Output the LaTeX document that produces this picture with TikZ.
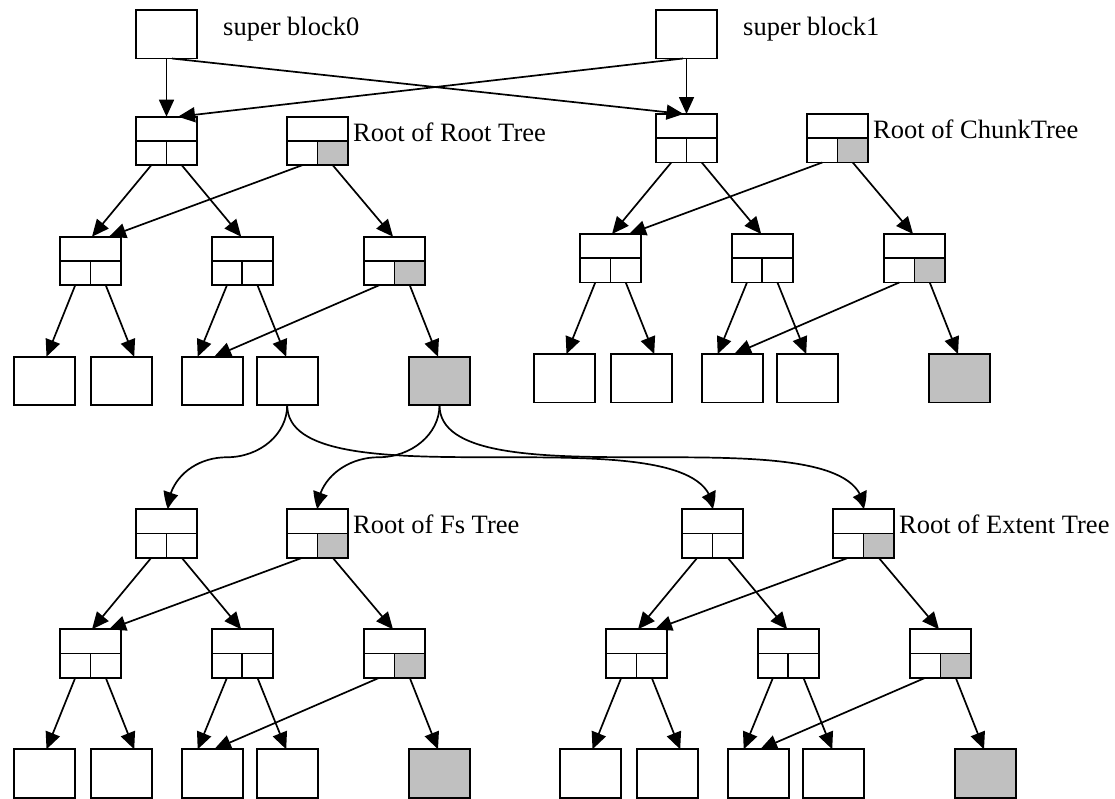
\documentclass[tikz,border=0pt]{standalone}
\usepackage{fontspec}
\setmainfont{Liberation Serif}
\usetikzlibrary{arrows.meta,calc,bending}
\definecolor{cellgray}{RGB}{192,192,192}
\tikzset{
  blk/.style={draw, line width=1.8pt, fill=white, minimum width=61pt,
    minimum height=48.5pt, inner sep=0pt, outer sep=0pt, anchor=north west},
  grayblk/.style={blk, fill=cellgray},
  inode/.style={blk, path picture={
      \draw[line width=1.8pt]
        (path picture bounding box.west) -- (path picture bounding box.east)
        (path picture bounding box.center) -- (path picture bounding box.south);}},
  inodeg/.style={blk, path picture={
      \fill[cellgray] (path picture bounding box.center)
        rectangle (path picture bounding box.south east);
      \draw[line width=1.8pt]
        (path picture bounding box.west) -- (path picture bounding box.east)
        (path picture bounding box.center) -- (path picture bounding box.south);}},
  arr/.style={line width=1.7pt, -{Triangle[length=17pt,width=15pt]}},
  carr/.style={line width=1.7pt, -{Triangle[length=17pt,width=15pt,bend]}},
  lab/.style={anchor=base west, inner sep=0pt, font=\fontsize{26.5}{31}\selectfont},
}
% one B-tree: #1 name prefix, #2/#3 offset, #4 caption of the root
\newcommand\btree[4]{%
  \begin{scope}[shift={(#2,#3)}]
    \node[inode]   (#1A) at (136,116.7) {};
    \node[inodeg]  (#1B) at (287,116.7) {};
    \node[inode]   (#1L) at (60,236.7) {};
    \node[inode]   (#1M) at (211.7,236.7) {};
    \node[inodeg]  (#1R) at (364,236.7) {};
    \node[blk]     (#1a) at (14,356.7) {};
    \node[blk]     (#1b) at (90.7,356.7) {};
    \node[blk]     (#1c) at (181.7,356.7) {};
    \node[blk]     (#1d) at (256.7,356.7) {};
    \node[grayblk] (#1e) at (409,356.7) {};
  \end{scope}
  \node[lab] (#1lab) at ($(#1B.north east)+(5,24.5)$) {#4};
  \draw[arr] ($(#1A.south west)!.25!(#1A.south east)$) -- ($(#1L.north)+(1.5,0)$);
  \draw[arr] ($(#1A.south west)!.75!(#1A.south east)$) -- ($(#1M.north)+(-1,0)$);
  \draw[arr] ($(#1B.south west)!.25!(#1B.south east)$) -- ($(#1L.north)+(18.5,0)$);
  \draw[arr] ($(#1B.south west)!.75!(#1B.south east)$) -- ($(#1R.north)+(-1.5,0)$);
  \draw[arr] ($(#1L.south west)!.25!(#1L.south east)$) -- ($(#1a.north)+(2,0)$);
  \draw[arr] ($(#1L.south west)!.75!(#1L.south east)$) -- ($(#1b.north)+(13,0)$);
  \draw[arr] ($(#1M.south west)!.25!(#1M.south east)$) -- ($(#1c.north)+(-14.5,0)$);
  \draw[arr] ($(#1M.south west)!.75!(#1M.south east)$) -- ($(#1d.north)+(-1,0)$);
  \draw[arr] ($(#1R.south west)!.25!(#1R.south east)$) -- ($(#1c.north)+(2,0)$);
  \draw[arr] ($(#1R.south west)!.75!(#1R.south east)$) -- ($(#1e.north)+(-1.5,0)$);
}
\begin{document}
\begin{tikzpicture}[x=1pt, y=-1pt]
  \useasboundingbox (0,0) rectangle (1115,798);

  % super blocks
  \node[blk] (sb0) at (136,10) {};
  \node[blk] (sb1) at (656,10) {};
  \node[lab] (sbl0) at (223,35) {super block0};
  \node[lab] (sbl1) at (743,35) {super block1};

  % the four trees
  \btree{T}{0}{0}{Root of Root Tree}
  \btree{C}{520}{-2.7}{Root of ChunkTree}
  \btree{F}{0}{392.6}{Root of Fs Tree}
  \btree{E}{546}{392.6}{Root of Extent Tree}

  % super blocks point to both root-tree and chunk-tree roots
  \draw[arr] (sb0.south) -- (TA.north);
  \draw[arr] (sb1.south) -- (CA.north);
  \draw[arr] ($(sb0.south)+(5.5,0)$) -- ($(CA.north)+(-3,0)$);
  \draw[arr] ($(sb1.south)+(-3.5,0)$) -- ($(TA.north)+(11.5,0)$);

  % root-tree leaves point to the fs tree and extent tree
  \coordinate (m1) at ($(Td.south)!.5!(FA.north)$);
  \coordinate (m2) at ($(Te.south)!.5!(FB.north)$);
  \draw[carr] (Td.south) .. controls +(0,29) and +(33,0) .. (m1)
    .. controls +(-33,0) and +(0,-29) .. ($(FA.north)+(1.5,0)$);
  \draw[carr] (Te.south) .. controls +(0,29) and +(33,0) .. (m2)
    .. controls +(-33,0) and +(0,-29) .. (FB.north);
  \draw[carr] (Td.south) .. controls +(0,104) and +(0,-104) .. (EA.north);
  \draw[carr] (Te.south) .. controls +(0,104) and +(0,-104) .. (EB.north);
\end{tikzpicture}
\end{document}
